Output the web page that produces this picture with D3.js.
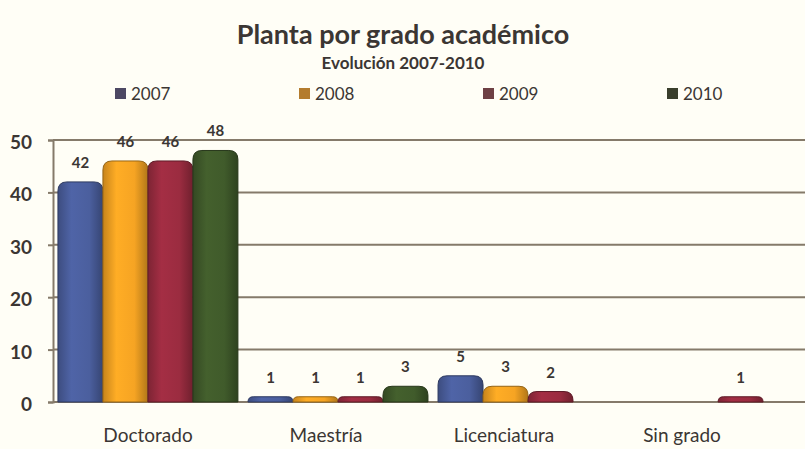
<!DOCTYPE html>
<html>
<head>
<meta charset="utf-8">
<script src="https://cdn.jsdelivr.net/npm/d3@7"></script>
<style>
    body { margin: 0; background: #fffef6; }
    #chart { width: 805px; height: 449px; }
    text { font-family: Lato, 'Open Sans', sans-serif; fill: #3b3633; }
</style>
</head>
<body>
<div id="chart"></div>
<script>
//Datos
const categorias = ['Doctorado', 'Maestría', 'Licenciatura', 'Sin grado'];
const anios = ['2007', '2008', '2009', '2010'];
const valores2007 = [42, 1, 5, 0];
const valores2008 = [46, 1, 3, 0];
const valores2009 = [46, 1, 2, 1];
const valores2010 = [48, 3, 0, 0];
const ticksY = [0, 10, 20, 30, 40, 50];

//Colores fijos
const COLORES = ['#4b5f9e', '#f6a423', '#9b2c40', '#405b2b'];
const COLORES_LEYENDA = ['#4d4863', '#b47c2e', '#6e4044', '#3a3f2c'];
const COLOR_LINEA = '#857a6a';

let series = [valores2007, valores2008, valores2009, valores2010];
let data = [];
categorias.forEach(function(c, i) {
    anios.forEach(function(a, j) {
        data.push({cat: c, anio: a, valor: series[j][i]});
    });
});

let width = 805, height = 449;
let svg = d3.select('#chart').append('svg')
    .attr('width', width)
    .attr('height', height);

//Gradientes para efecto cilindro
let defs = svg.append('defs');
COLORES.forEach(function(c, i) {
    let g = defs.append('linearGradient').attr('id', 'grad' + i)
        .attr('x1', '0%').attr('x2', '100%').attr('y1', '0%').attr('y2', '0%');
    g.append('stop').attr('offset', '0%').attr('stop-color', d3.color(c).darker(0.6));
    g.append('stop').attr('offset', '30%').attr('stop-color', d3.color(c).brighter(0.15));
    g.append('stop').attr('offset', '70%').attr('stop-color', c);
    g.append('stop').attr('offset', '100%').attr('stop-color', d3.color(c).darker(0.9));
});

//Títulos
svg.append('text')
    .attr('x', 403).attr('y', 44)
    .attr('text-anchor', 'middle')
    .style('font-size', '27px').style('font-weight', 'bold')
    .text('Planta por grado académico');
svg.append('text')
    .attr('x', 403).attr('y', 69)
    .attr('text-anchor', 'middle')
    .style('font-size', '17px').style('font-weight', 'bold')
    .text('Evolución 2007-2010');

//Leyenda
let leyenda = d3.scalePoint().domain(anios).range([115, 667]);
let ley = svg.selectAll('.ley').data(anios).enter().append('g')
    .attr('transform', function(d) { return 'translate(' + leyenda(d) + ',100)'; });
ley.append('rect')
    .attr('x', 0).attr('y', -12).attr('width', 11).attr('height', 11)
    .attr('fill', function(d, i) { return COLORES_LEYENDA[i]; });
ley.append('text')
    .attr('x', 16).attr('y', 0)
    .style('font-size', '17px')
    .text(function(d) { return d; });

//Escalas
let y = d3.scaleLinear().domain([0, 50]).range([402, 140]);
let x0 = d3.scaleBand().domain(categorias).range([53, 813]).paddingInner(0.053).paddingOuter(0.026);
let x1 = d3.scaleBand().domain(anios).range([0, x0.bandwidth()]);
let xLabels = d3.scaleBand().domain(categorias).range([59, 771]);

//Rejilla
svg.append('g')
    .selectAll('line').data(ticksY).enter().append('line')
    .attr('x1', 53).attr('x2', width)
    .attr('y1', function(d) { return y(d); })
    .attr('y2', function(d) { return y(d); })
    .attr('stroke', COLOR_LINEA)
    .attr('stroke-width', 2);

//Eje Y
let yAxis = svg.append('g')
    .attr('transform', 'translate(53,0)')
    .call(d3.axisLeft(y).tickValues(ticksY).tickSize(5).tickPadding(16));
yAxis.select('.domain').attr('stroke', COLOR_LINEA).attr('stroke-width', 2);
yAxis.selectAll('.tick line').attr('stroke', COLOR_LINEA).attr('stroke-width', 2);
yAxis.selectAll('.tick text')
    .attr('dy', '0.45em')
    .style('font-size', '19px').style('font-weight', 'bold')
    .style('font-family', 'Lato, sans-serif').attr('fill', '#3b3633');

//Eje X
let xAxis = svg.append('g')
    .attr('transform', 'translate(0,' + 402 + ')')
    .call(d3.axisBottom(xLabels).tickSize(0).tickPadding(27));
xAxis.select('.domain').remove();
xAxis.selectAll('.tick text')
    .style('font-size', '19px')
    .style('font-family', 'Lato, sans-serif').attr('fill', '#3b3633');

//Barras con esquinas superiores redondeadas
function barPath(x, w, top, bottom) {
    let h = bottom - top;
    let r = Math.min(9, h, w / 2);
    return 'M' + x + ',' + bottom +
        'V' + (top + r) +
        'Q' + x + ',' + top + ' ' + (x + r) + ',' + top +
        'H' + (x + w - r) +
        'Q' + (x + w) + ',' + top + ' ' + (x + w) + ',' + (top + r) +
        'V' + bottom + 'Z';
}

let barras = data.filter(function(d) { return d.valor > 0; });

svg.append('g').selectAll('path').data(barras).enter().append('path')
    .attr('d', function(d) {
        return barPath(x0(d.cat) + x1(d.anio), x1.bandwidth(), y(d.valor), y(0));
    })
    .attr('fill', function(d) { return 'url(#grad' + anios.indexOf(d.anio) + ')'; })
    .attr('stroke', function(d) { return d3.color(COLORES[anios.indexOf(d.anio)]).darker(1.4); })
    .attr('stroke-width', 1);

//Etiquetas de valores
svg.append('g').selectAll('text').data(barras).enter().append('text')
    .attr('x', function(d) { return x0(d.cat) + x1(d.anio) + x1.bandwidth() / 2; })
    .attr('y', function(d) { return y(d.valor) - 14; })
    .attr('text-anchor', 'middle')
    .style('font-size', '15px').style('font-weight', 'bold')
    .text(function(d) { return d.valor; });
</script>
</body>
</html>
